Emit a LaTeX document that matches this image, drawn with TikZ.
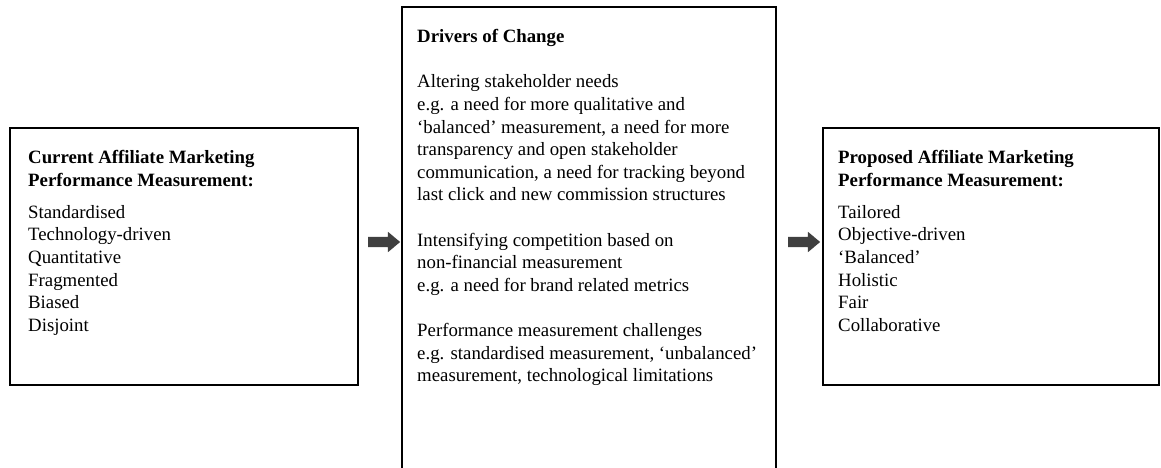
\documentclass[tikz,border=0pt]{standalone}
\usepackage{fontspec}
\setmainfont{Liberation Serif}
\usetikzlibrary{shapes.arrows}

\begin{document}
\begin{tikzpicture}[x=1pt,y=-1pt,
		box/.style={draw=black,line width=1.6pt},
		txt/.style={anchor=north west,inner sep=0pt,align=left,font=\fontsize{18.8}{22.6}\selectfont},
		blockarr/.style={single arrow,fill=black!75,draw=none,inner xsep=0pt,inner ysep=5pt,
			minimum width=20pt,minimum height=32pt,
			single arrow head extend=5pt,single arrow tip angle=80}]
							% 背景与边界
							\fill[white] (0,0) rectangle (1161,468);
							\useasboundingbox (0,0) rectangle (1161,468);
							% 左框：现状
							\draw[box] (10,128) rectangle (358,385);
							\node[txt] (cur) at (28,147.7) {\strut\textbf{Current Affiliate Marketing}\\
								\textbf{Performance Measurement:}\\[9.4pt]
								Standardised\\Technology-driven\\Quantitative\\Fragmented\\Biased\\Disjoint};
							% 中框：变化驱动因素（下边超出画面）
							\draw[box] (402,7) rectangle (776,500);
							\node[txt] (drv) at (417,26.7) {\strut\textbf{Drivers of Change}\\[22.6pt]
								Altering stakeholder needs\\
								e.g. a need for more qualitative and\\
								‘balanced’ measurement, a need for more\\
								transparency and open stakeholder\\
								communication, a need for tracking beyond\\
								last click and new commission structures\\[22.6pt]
								Intensifying competition based on\\
								non-financial measurement\\
								e.g. a need for brand related metrics\\[22.6pt]
								Performance measurement challenges\\
								e.g. standardised measurement, ‘unbalanced’\\
								measurement, technological limitations};
							% 右框：建议
							\draw[box] (823,128) rectangle (1159,385);
							\node[txt] (prop) at (838,147.7) {\strut\textbf{Proposed Affiliate Marketing}\\
								\textbf{Performance Measurement:}\\[9.4pt]
								Tailored\\Objective-driven\\‘Balanced’\\Holistic\\Fair\\Collaborative};
							% 箭头
							\node[blockarr] (arr1) at (381,242) {};
							\node[blockarr] (arr2) at (801,242) {};
\end{tikzpicture}
\end{document}
